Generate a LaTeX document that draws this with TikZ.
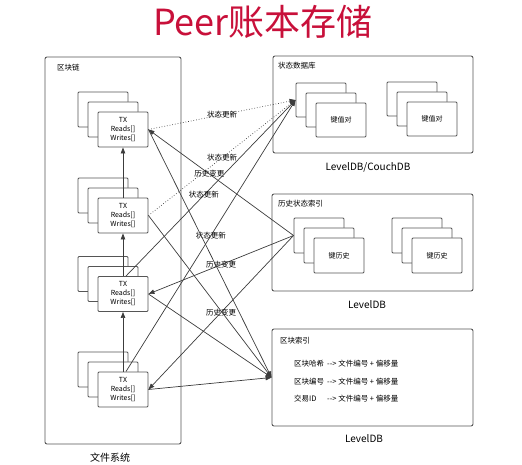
\documentclass[tikz,border=0pt]{standalone}
\usepackage{fontspec}
\setmainfont{Noto Sans CJK SC}
\usepackage{tikz}
\usetikzlibrary{arrows.meta}
\definecolor{TitleRed}{RGB}{200,16,58}
\definecolor{PaneBorder}{RGB}{85,85,85}
\definecolor{EdgeColor}{RGB}{60,60,60}
\tikzset{
  % Outer store box
  pane/.style={
    draw=PaneBorder,
    line width=0.9pt,
    rounded corners=2pt,
    inner sep=0pt
  },
  % Stacked record sheet
  sheet/.style={
    draw=PaneBorder,
    fill=white,
    line width=0.9pt,
    rounded corners=1pt,
    minimum width=50pt,
    minimum height=35pt,
    inner sep=0pt,
    align=center,
    font=\fontsize{7}{9}\selectfont
  },
  % Pane caption (top left)
  ptitle/.style={anchor=west, inner sep=0pt, font=\fontsize{7.5}{9}\selectfont},
  % Caption under a pane
  dbname/.style={inner sep=0pt, font=\fontsize{10}{12}\selectfont},
  % Solid connector
  link/.style={
    draw=EdgeColor,
    line width=0.7pt,
    -{Triangle[length=6pt,width=4.5pt]}
  },
  % Dotted connector
  dlink/.style={link, dotted},
  % Connector label
  tag/.style={midway, inner sep=0pt, font=\fontsize{7.5}{9}\selectfont}
}

\begin{document}
\begin{tikzpicture}[x=1pt,y=-1pt]
  \useasboundingbox (0,0) rectangle (522,465);

  \node[text=TitleRed, font=\fontsize{36}{40}\selectfont] (title) at (263,22) {Peer账本存储};

  % Panes
  \node[pane, minimum width=136pt, minimum height=387pt] (chain) at (113,250.5) {};
  \node[pane, minimum width=200pt, minimum height=97pt] (state) at (373,104.5) {};
  \node[pane, minimum width=201pt, minimum height=97pt] (hist) at (372.5,242.5) {};
  \node[pane, minimum width=201pt, minimum height=97pt] (index) at (372.5,377.5) {};

  \node[ptitle] (chainlbl) at (57,68) {区块链};
  \node[ptitle] (statelbl) at (278,66) {状态数据库};
  \node[ptitle] (histlbl) at (278,204) {历史状态索引};
  \node[ptitle] (indexlbl) at (280,341) {区块索引};

  \node[dbname] (fsname) at (110,458) {文件系统};
  \node[dbname] (statedb) at (368,167) {LevelDB/CouchDB};
  \node[dbname] (histdb) at (367,305) {LevelDB};
  \node[dbname] (indexdb) at (364,439) {LevelDB};

  % Blocks
  \node[sheet] (t1a) at (103,109.5) {};
  \node[sheet] (t1b) at (113,119.5) {};
  \node[sheet] (t1c) at (123,129.5) {TX\\Reads[]\\Writes[]};
  \node[sheet] (t2a) at (103,195.5) {};
  \node[sheet] (t2b) at (113,205.5) {};
  \node[sheet] (t2c) at (123,215.5) {TX\\Reads[]\\Writes[]};
  \node[sheet] (t3a) at (103,274) {};
  \node[sheet] (t3b) at (113,284) {};
  \node[sheet] (t3c) at (123,294) {TX\\Reads[]\\Writes[]};
  \node[sheet] (t4a) at (103,369.5) {};
  \node[sheet] (t4b) at (113,379.5) {};
  \node[sheet] (t4c) at (123,389.5) {TX\\Reads[]\\Writes[]};

  % Key/value records
  \node[sheet, minimum height=34pt] (s1a) at (321,100) {};
  \node[sheet, minimum height=34pt] (s1b) at (331,110) {};
  \node[sheet, minimum height=34pt] (s1c) at (341,120) {键值对};
  \node[sheet, minimum height=34pt] (s2a) at (412,99) {};
  \node[sheet, minimum height=34pt] (s2b) at (422,109) {};
  \node[sheet, minimum height=34pt] (s2c) at (432,119) {键值对};

  % Key histories
  \node[sheet] (h1a) at (319,235.5) {};
  \node[sheet] (h1b) at (329,245.5) {};
  \node[sheet] (h1c) at (339,255.5) {键历史};
  \node[sheet] (h2a) at (417,235.5) {};
  \node[sheet] (h2b) at (427,245.5) {};
  \node[sheet] (h2c) at (437,255.5) {键历史};

  % Index entries
  \node[anchor=west, inner sep=0pt, font=\fontsize{7.5}{9}\selectfont] (entries) at (294,382.5) {%
    \begin{tabular}{@{}l@{\hspace{3pt}}l@{}}
      区块哈希 & -{}-{}> 文件编号 + 偏移量 \\[8.5pt]
      区块编号 & -{}-{}> 文件编号 + 偏移量 \\[8.5pt]
      交易ID   & -{}-{}> 文件编号 + 偏移量
    \end{tabular}
  };

  % Chain links
  \draw[link] (t2c.north) -- (t1c.south);
  \draw[link] (t3c.north) -- (t2c.south);
  \draw[link] (t4c.north) -- (t3c.south);

  % State updates
  \draw[dlink] (t1c.east) -- node[tag] {状态更新} (s1a.west);
  \draw[dlink] (t2c.east) -- node[tag] {状态更新} (s1a.west);
  \draw[link] ([xshift=3pt]t3c.north) -- node[tag, pos=0.46] {状态更新} (s1a.west);
  \draw[link] ([xshift=3pt]t4c.north) -- node[tag] {状态更新} (s1a.west);

  % History changes
  \draw[link] (h1a.west) -- node[tag, pos=0.58] {历史变更} (t1c.east);
  \draw[link] (h1a.west) -- node[tag] {历史变更} (t3c.east);
  \draw[link] (h1a.west) -- node[tag] {历史变更} (t4c.east);

  % Block index
  \draw[link] (t1c.east) -- (index.west);
  \draw[link] (t2c.east) -- (index.west);
  \draw[link] (t3c.east) -- (index.west);
  \draw[link] (t4c.east) -- (index.west);
\end{tikzpicture}
\end{document}
